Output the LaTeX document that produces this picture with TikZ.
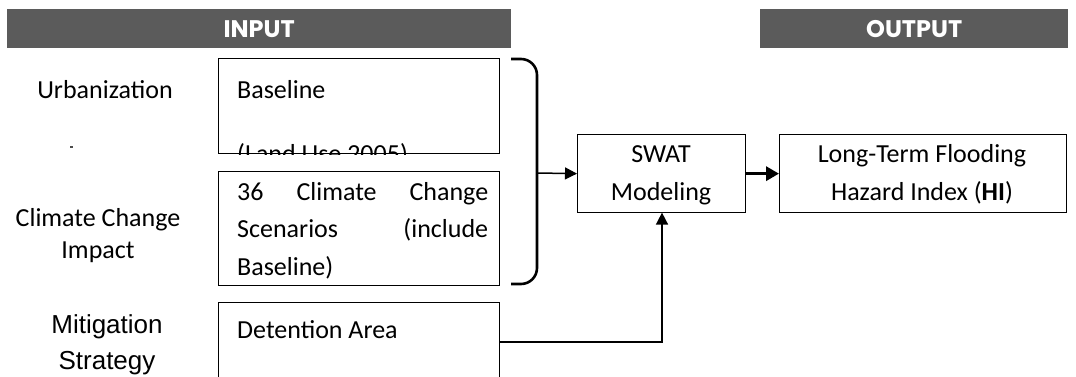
\documentclass[tikz,border=0pt]{standalone}
\usepackage{fontspec}
\setmainfont{Carlito}
\newfontfamily\arialf{Liberation Sans}
\newfontfamily\popf{Poppins}
\usetikzlibrary{arrows.meta}
\definecolor{bargray}{RGB}{91,91,91}
\begin{document}
\begin{tikzpicture}[x=1pt,y=-1pt,
  txt/.style={font=\fontsize{26}{37.5}\selectfont, inner sep=0pt},
  arialtxt/.style={font=\arialf\fontsize{26}{34}\selectfont, inner sep=0pt},
  bartxt/.style={font=\popf\bfseries\fontsize{24}{24}\selectfont, text=white, inner sep=0pt},
  bar/.style={fill=bargray, draw=none, inner sep=0pt, anchor=north west},
  box/.style={draw, line width=1.3pt, inner sep=0pt, anchor=north west},
  conn/.style={line width=1.5pt, -{Triangle[length=12pt,width=12pt]}},
  thickconn/.style={line width=3.5pt, -{Triangle[length=13pt,width=14pt]}},
  bracestyle/.style={line width=2.6pt, rounded corners=16pt}]
\useasboundingbox (0,0) rectangle (1076,377);

% header bars
\node[bar, minimum width=504pt, minimum height=39pt] (inbar) at (7,9) {};
\node[bartxt] (intxt) at (inbar.center) {INPUT};
\node[bar, minimum width=308pt, minimum height=39pt] (outbar) at (760,9) {};
\node[bartxt] (outtxt) at (outbar.center) {OUTPUT};

% left labels
\node[txt, anchor=base] (urb) at (105,99) {Urbanization};
\fill[black!70] (70,146) rectangle (73,148);
\node[txt, anchor=base] (cc1) at (98,226) {Climate Change};
\node[txt, anchor=base] (cc2) at (98,258) {Impact};
\node[arialtxt, anchor=base] (mit1) at (107,333) {Mitigation};
\node[arialtxt, anchor=base] (mit2) at (107,369) {Strategy};

% input boxes
\node[box, minimum width=281pt, minimum height=95pt] (base) at (218,58) {};
\node[txt, anchor=base west] (basetxt) at (237,99) {Baseline};
\begin{scope}
  \clip (base.north west) rectangle (base.south east);
  \node[txt, anchor=base west] (landuse) at (237,163) {(Land Use 2005)};
\end{scope}
\node[box, minimum width=281pt, minimum height=95pt] at (218,58) {};

\node[box, minimum width=281pt, minimum height=114pt] (clim) at (218,171) {};
\node[txt, anchor=north west, text width=251pt, align=justify,
  execute at begin node={\hyphenpenalty=10000\exhyphenpenalty=10000\tolerance=10000\hbadness=10000}]
  (climtxt) at (237,182)
  {36 Climate Change Scenarios (include Baseline)};

\node[box, minimum width=281pt, minimum height=90pt] (det) at (218,302) {};
\node[txt, anchor=base west] (dettxt) at (237,338) {Detention Area};

% brace
\draw[bracestyle] (511,59) -- (537,59) -- (537,284) -- (511,284);
\coordinate (braceR) at (537,173);

% processing boxes
\node[box, minimum width=168pt, minimum height=78pt] (swat) at (577,134) {};
\node[txt, anchor=base] (swat1) at (661,163) {SWAT};
\node[txt, anchor=base] (swat2) at (661,200) {Modeling};

\node[box, minimum width=287pt, minimum height=78pt] (hi) at (779,134) {};
\node[txt, anchor=base] (hi1) at (922,163) {Long-Term Flooding};
\node[txt, anchor=base] (hi2) at (922,200) {Hazard Index (\textbf{HI})};

% connectors
\draw[conn] (braceR) -- (swat.west);
\draw[thickconn] (swat.east) -- (hi.west);
\draw[conn] (det.east |- 0,342) -- (662,342) -- (662,212.6);
\end{tikzpicture}
\end{document}
